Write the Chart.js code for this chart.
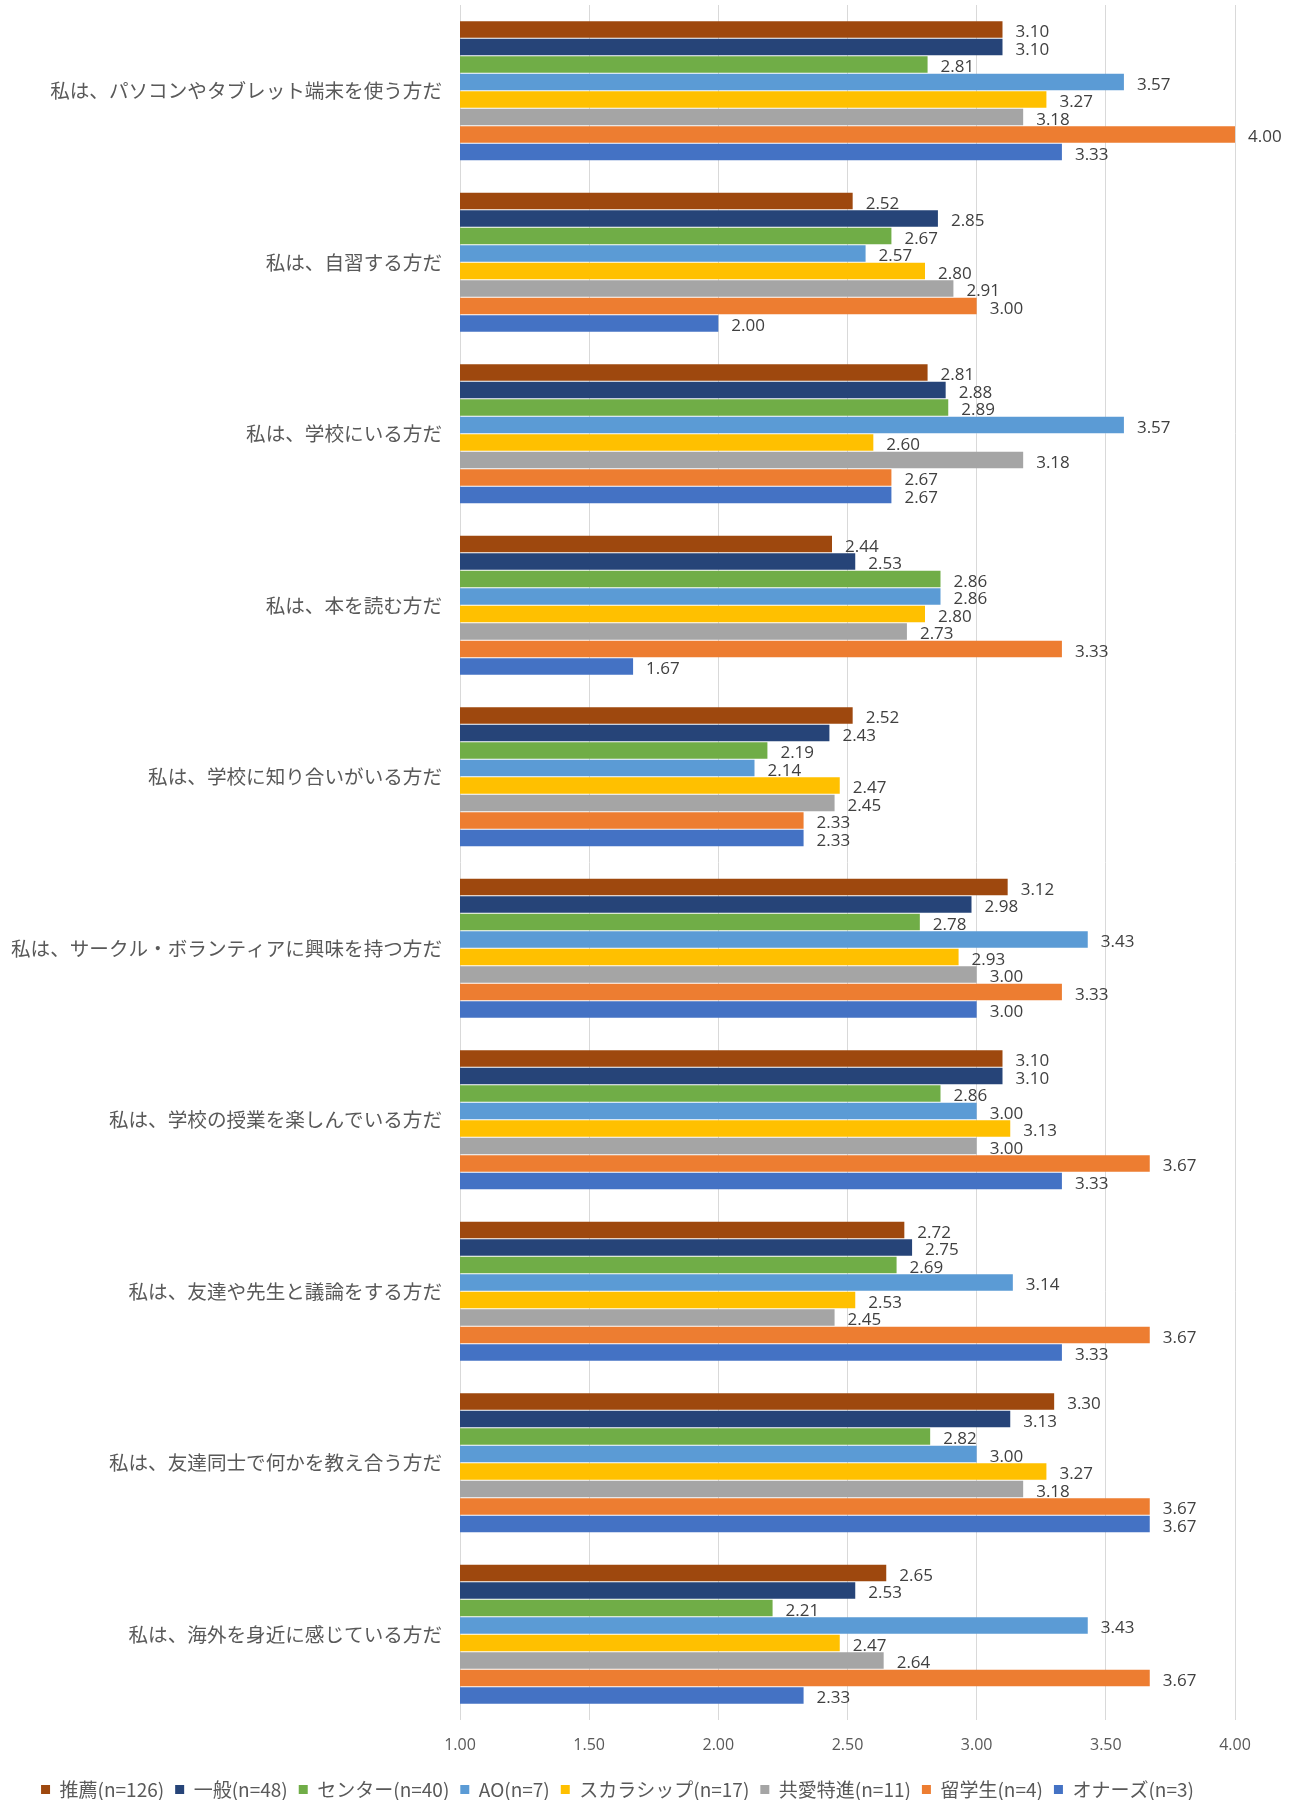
<!DOCTYPE html>
<html lang="ja">
<head>
<meta charset="utf-8">
<script src="https://cdn.jsdelivr.net/npm/chart.js@4.4.1/dist/chart.umd.min.js"></script>
<style>
  html, body { margin: 0; padding: 0; background: #fff; }
  #wrap { width: 1290px; height: 1800px; position: relative; }
</style>
</head>
<body>
<div id="wrap"><canvas id="myChart"></canvas></div>
<script>
// 設問
const categories = [
    '私は、パソコンやタブレット端末を使う方だ',
    '私は、自習する方だ',
    '私は、学校にいる方だ',
    '私は、本を読む方だ',
    '私は、学校に知り合いがいる方だ',
    '私は、サークル・ボランティアに興味を持つ方だ',
    '私は、学校の授業を楽しんでいる方だ',
    '私は、友達や先生と議論をする方だ',
    '私は、友達同士で何かを教え合う方だ',
    '私は、海外を身近に感じている方だ'
];

// 入試区分ごとの平均値
const suisen      = [3.10, 2.52, 2.81, 2.44, 2.52, 3.12, 3.10, 2.72, 3.30, 2.65];
const ippan       = [3.10, 2.85, 2.88, 2.53, 2.43, 2.98, 3.10, 2.75, 3.13, 2.53];
const center      = [2.81, 2.67, 2.89, 2.86, 2.19, 2.78, 2.86, 2.69, 2.82, 2.21];
const ao          = [3.57, 2.57, 3.57, 2.86, 2.14, 3.43, 3.00, 3.14, 3.00, 3.43];
const scholarship = [3.27, 2.80, 2.60, 2.80, 2.47, 2.93, 3.13, 2.53, 3.27, 2.47];
const tokushin    = [3.18, 2.91, 3.18, 2.73, 2.45, 3.00, 3.00, 2.45, 3.18, 2.64];
const ryugakusei  = [4.00, 3.00, 2.67, 3.33, 2.33, 3.33, 3.67, 3.67, 3.67, 3.67];
const honors      = [3.33, 2.00, 2.67, 1.67, 2.33, 3.00, 3.33, 3.33, 3.67, 2.33];

const seriesNames = ['推薦(n=126)', '一般(n=48)', 'センター(n=40)', 'AO(n=7)',
    'スカラシップ(n=17)', '共愛特進(n=11)', '留学生(n=4)', 'オナーズ(n=3)'];
const seriesData = [suisen, ippan, center, ao, scholarship, tokushin, ryugakusei, honors];
const seriesColors = ['#9E480E', '#264478', '#70AD47', '#5B9BD5',
    '#FFC000', '#A5A5A5', '#ED7D31', '#4472C4'];

// 軸の目盛
const axisMin = 1.0;
const axisMax = 4.0;
const axisStep = 0.5;

const numFont = '"Open Sans", "Noto Sans", sans-serif';
const jpFont = '"Noto Sans CJK JP", "Noto Sans", sans-serif';

// 棒の右側に値を表示する
const valueLabels = {
    id: 'valueLabels',
    afterDatasetsDraw(chart) {
        const ctx = chart.ctx;
        ctx.save();
        ctx.font = '17px ' + numFont;
        ctx.fillStyle = '#404040';
        ctx.textBaseline = 'middle';
        ctx.textAlign = 'left';
        chart.data.datasets.forEach((ds, i) => {
            const meta = chart.getDatasetMeta(i);
            meta.data.forEach((bar, j) => {
                ctx.fillText(ds.data[j].toFixed(2), bar.x + 13, bar.y + 3);
            });
        });
        ctx.restore();
    }
};

const ctx = document.getElementById('myChart').getContext('2d');
new Chart(ctx, {
    type: 'bar',
    data: {
        labels: categories,
        datasets: seriesNames.map((name, i) => ({
            label: name,
            data: seriesData[i],
            backgroundColor: seriesColors[i],
            borderWidth: 0,
            barPercentage: 0.95,
            categoryPercentage: 0.816
        }))
    },
    options: {
        indexAxis: 'y',
        responsive: true,
        maintainAspectRatio: false,
        animation: false,
        layout: {
            padding: { top: 5, right: 55, bottom: -9, left: 0 }
        },
        scales: {
            x: {
                min: axisMin,
                max: axisMax,
                grid: { color: '#D9D9D9', lineWidth: 1, drawTicks: false },
                border: { display: false },
                ticks: {
                    stepSize: axisStep,
                    padding: 16,
                    color: '#595959',
                    font: { family: numFont, size: 16 },
                    callback: v => Number(v).toFixed(2)
                },
                afterFit(scale) { scale.height = 49; }
            },
            y: {
                grid: { display: false },
                border: { display: false },
                ticks: {
                    padding: 10,
                    color: '#595959',
                    font: { family: jpFont, size: 19.6 }
                },
                afterFit(scale) {
                    scale.width = 460;
                    scale.paddingTop = 0;
                    scale.paddingBottom = 0;
                }
            }
        },
        plugins: {
            legend: {
                position: 'bottom',
                labels: {
                    boxWidth: 9,
                    boxHeight: 9,
                    padding: 11,
                    color: '#595959',
                    font: { family: jpFont, size: 19 }
                }
            },
            tooltip: { enabled: false }
        }
    },
    plugins: [valueLabels]
});
</script>
</body>
</html>
